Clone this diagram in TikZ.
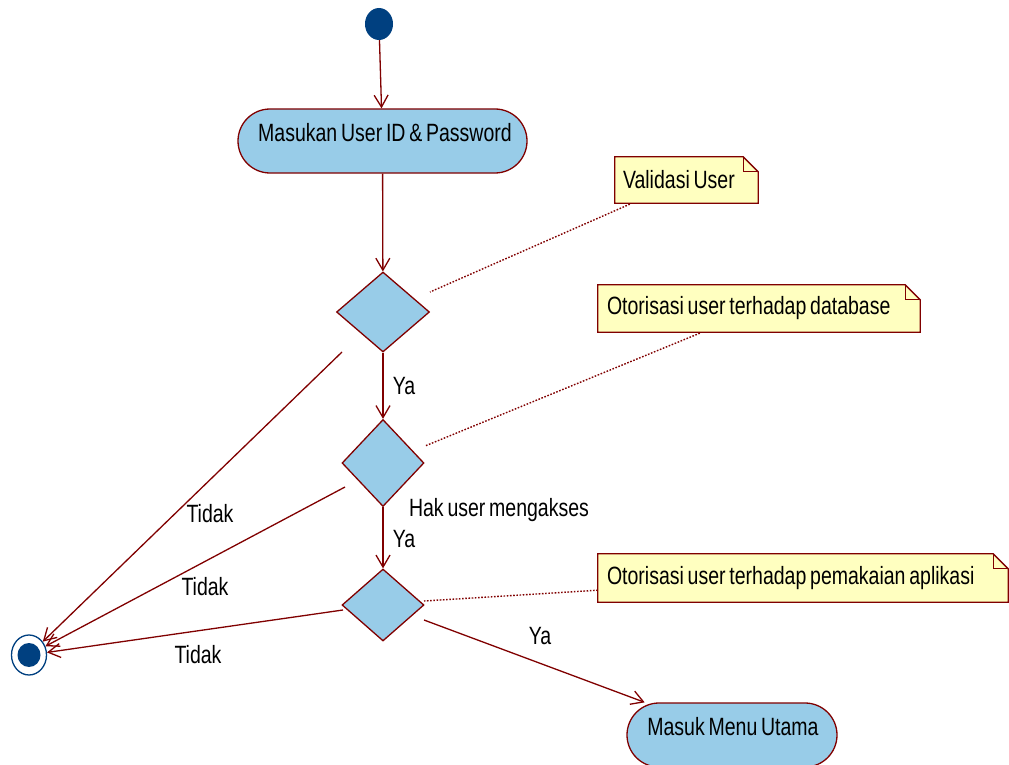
\documentclass[tikz,border=0pt]{standalone}
\usepackage{fontspec}
\setmainfont{Liberation Sans}[FakeStretch=0.78,WordSpace=0.7]
\usetikzlibrary{shapes.geometric,arrows.meta,calc}
\definecolor{edgered}{RGB}{128,0,0}
\definecolor{actfill}{RGB}{152,204,232}
\definecolor{dotblue}{RGB}{0,64,128}
\definecolor{notefill}{RGB}{255,255,192}
\begin{document}
\begin{tikzpicture}[x=1pt,y=-1pt,
  every node/.style={font=\fontsize{25}{28}\selectfont},
  act/.style={draw=edgered, fill=actfill, line width=1.3pt, rounded corners=32pt,
    minimum height=64pt, inner sep=0pt},
  dec/.style={diamond, draw=edgered, fill=actfill, line width=1.3pt, inner sep=0pt},
  flow/.style={draw=edgered, line width=1.3pt, -{Straight Barb[length=12pt,width=14pt]}},
  link/.style={draw=edgered, line width=1.4pt, dash pattern=on 1.6pt off 1.6pt},
  lbl/.style={text=black, inner sep=0pt},
  notebox/.style={fill=notefill, inner sep=0pt},
  noteline/.style={draw=edgered, line width=1.3pt, line join=miter},
]
\useasboundingbox (0,0) rectangle (1009,765);

% start / end
\node[ellipse, fill=dotblue, minimum width=28pt, minimum height=32pt, inner sep=0pt] (start) at (379,24) {};
\node[ellipse, draw=dotblue, fill=white, line width=1.3pt, minimum width=35pt, minimum height=40pt, inner sep=0pt] (final) at (29,655) {};
\fill[dotblue] (final.center) ellipse (11.5pt and 12pt);

% actions
\node[act, minimum width=289pt] (act1) at (382.5,141) {};
\node[lbl] (act1t) at (385,133) {Masukan User ID \& Password};
\node[act, minimum width=210pt] (act2) at (732,735) {};
\node[lbl] (act2t) at (733,727) {Masuk Menu Utama};

% decisions
\node[dec, minimum width=93pt, minimum height=80pt] (d1) at (383,312) {};
\node[dec, minimum width=82pt, minimum height=87pt] (d2) at (383,463) {};
\node[dec, minimum width=82pt, minimum height=72pt] (d3) at (383,605) {};

% notes
\node[notebox, minimum width=143pt, minimum height=46pt] (n1) at (686.5,180) {};
\fill[white] ($(n1.north east)+(-15,0)$) -- (n1.north east) -- ($(n1.north east)+(0,15)$) -- cycle;
\draw[noteline] (n1.north west) -- ($(n1.north east)+(-15,0)$) -- ($(n1.north east)+(0,15)$) -- (n1.south east) -- (n1.south west) -- cycle;
\draw[noteline] ($(n1.north east)+(-15,0)$) -- ($(n1.north east)+(-15,15)$) -- ($(n1.north east)+(0,15)$);
\node[lbl, anchor=west] (n1t) at ($(n1.west)+(8,0)$) {Validasi User};

\node[notebox, minimum width=322pt, minimum height=47pt] (n2) at (759,308.5) {};
\fill[white] ($(n2.north east)+(-15,0)$) -- (n2.north east) -- ($(n2.north east)+(0,15)$) -- cycle;
\draw[noteline] (n2.north west) -- ($(n2.north east)+(-15,0)$) -- ($(n2.north east)+(0,15)$) -- (n2.south east) -- (n2.south west) -- cycle;
\draw[noteline] ($(n2.north east)+(-15,0)$) -- ($(n2.north east)+(-15,15)$) -- ($(n2.north east)+(0,15)$);
\node[lbl, anchor=west] (n2t) at ($(n2.west)+(9,0)$) {Otorisasi user terhadap database};

\node[notebox, minimum width=410pt, minimum height=48pt] (n3) at (803,578) {};
\fill[white] ($(n3.north east)+(-15,0)$) -- (n3.north east) -- ($(n3.north east)+(0,15)$) -- cycle;
\draw[noteline] (n3.north west) -- ($(n3.north east)+(-15,0)$) -- ($(n3.north east)+(0,15)$) -- (n3.south east) -- (n3.south west) -- cycle;
\draw[noteline] ($(n3.north east)+(-15,0)$) -- ($(n3.north east)+(-15,15)$) -- ($(n3.north east)+(0,15)$);
\node[lbl, anchor=west] (n3t) at ($(n3.west)+(9,0)$) {Otorisasi user terhadap pemakaian aplikasi};

% free ends
\coordinate (t1) at (342,352);
\coordinate (t2) at (345,487);
\coordinate (t3) at (343,610);
\coordinate (t4) at (424,620);
\coordinate (k1) at (430,292);
\coordinate (k2) at (425,446);
\coordinate (k3) at (424,601);

% flows
\draw[flow] (start) -- (act1);
\draw[flow] (act1) -- (d1);
\draw[flow] (d1) -- (d2);
\draw[flow] (d2) -- (d3);
\draw[flow] (t1) -- (final);
\draw[flow] (t2) -- (final);
\draw[flow] (t3) -- (final);
\draw[flow] (t4) -- (act2);

% note links
\draw[link] ($(n1.south west)+(15,1)$) -- (k1);
\draw[link] ($(n2.south west)+(102,1)$) -- (k2);
\draw[link] ($(n3.south west)+(0,-12)$) -- (k3);

% labels
\node[lbl] (ya1) at (404,386) {Ya};
\node[lbl] (ya2) at (404,539) {Ya};
\node[lbl] (ya3) at (540,636) {Ya};
\node[lbl] (hak) at (499,510) {Hak user mengakses};
\node[lbl] (td1) at (210,514) {Tidak};
\node[lbl] (td2) at (205,587) {Tidak};
\node[lbl] (td3) at (198,655) {Tidak};
\end{tikzpicture}
\end{document}
